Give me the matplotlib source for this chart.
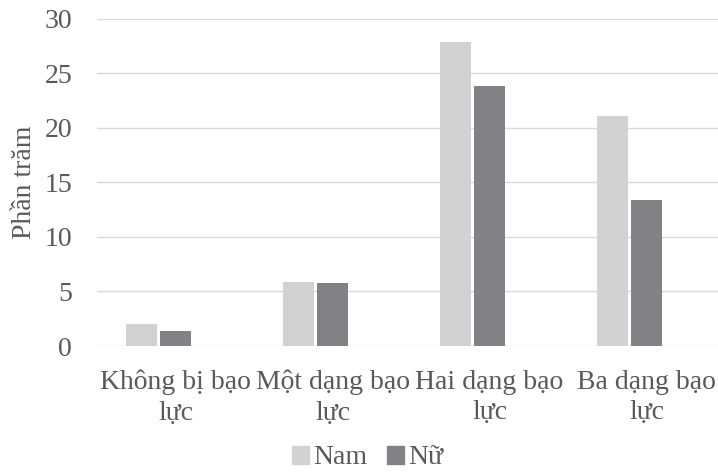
import numpy as np
import matplotlib.pyplot as plt
from matplotlib.patches import Patch

# data
categories = ["Không bị bạo\nlực", "Một dạng bạo\nlực", "Hai dạng bạo\nlực", "Ba dạng bạo\nlực"]
nam = [2.0, 5.9, 27.9, 21.1]
nu = [1.4, 5.8, 23.8, 13.4]
series_names = ["Nam", "Nữ"]
yticks = [0, 5, 10, 15, 20, 25, 30]

plt.rcParams["font.family"] = ["Liberation Serif", "DejaVu Serif"]
text_color = "#595959"
grid_color = "#d9d9d9"
nam_color = "#d1d2d4"
nu_color = "#818285"

fig = plt.figure(figsize=(7.18, 4.72), dpi=100)
ax = fig.add_axes([0.1351, 0.2669, 0.8649, 0.6935])

x = np.arange(len(categories))
w = 0.1975
ax.bar(x - 0.2166, nam, width=w, color=nam_color, zorder=3)
ax.bar(x, nu, width=w, color=nu_color, zorder=3)

ax.set_xlim(-0.5, 3.455)
ax.set_ylim(0, 30)
ax.set_yticks(yticks)
ax.set_xticks(x)
ax.set_xticklabels(categories, linespacing=1.3)
ax.yaxis.grid(True, color=grid_color, linewidth=1.0, zorder=0)
for s in ax.spines.values():
    s.set_visible(False)
ax.tick_params(axis="both", length=0, labelsize=20, colors=text_color)
ax.tick_params(axis="y", pad=18)
ax.tick_params(axis="x", pad=17)

fig.text(0.034, 0.613, "Phần trăm", rotation=90, ha="center", va="center",
         fontsize=20, color=text_color)

# legend sits under the category labels
handles = [Patch(color=nam_color), Patch(color=nu_color)]
leg = fig.legend(handles, series_names, loc="center", bbox_to_anchor=(0.512, 0.03),
                 ncol=2, frameon=False, fontsize=20, handlelength=0.62, handleheight=0.62,
                 handletextpad=0.15, columnspacing=0.7, borderaxespad=0, borderpad=0)
for t in leg.get_texts():
    t.set_color(text_color)

fig.savefig("out.png", dpi=100)
